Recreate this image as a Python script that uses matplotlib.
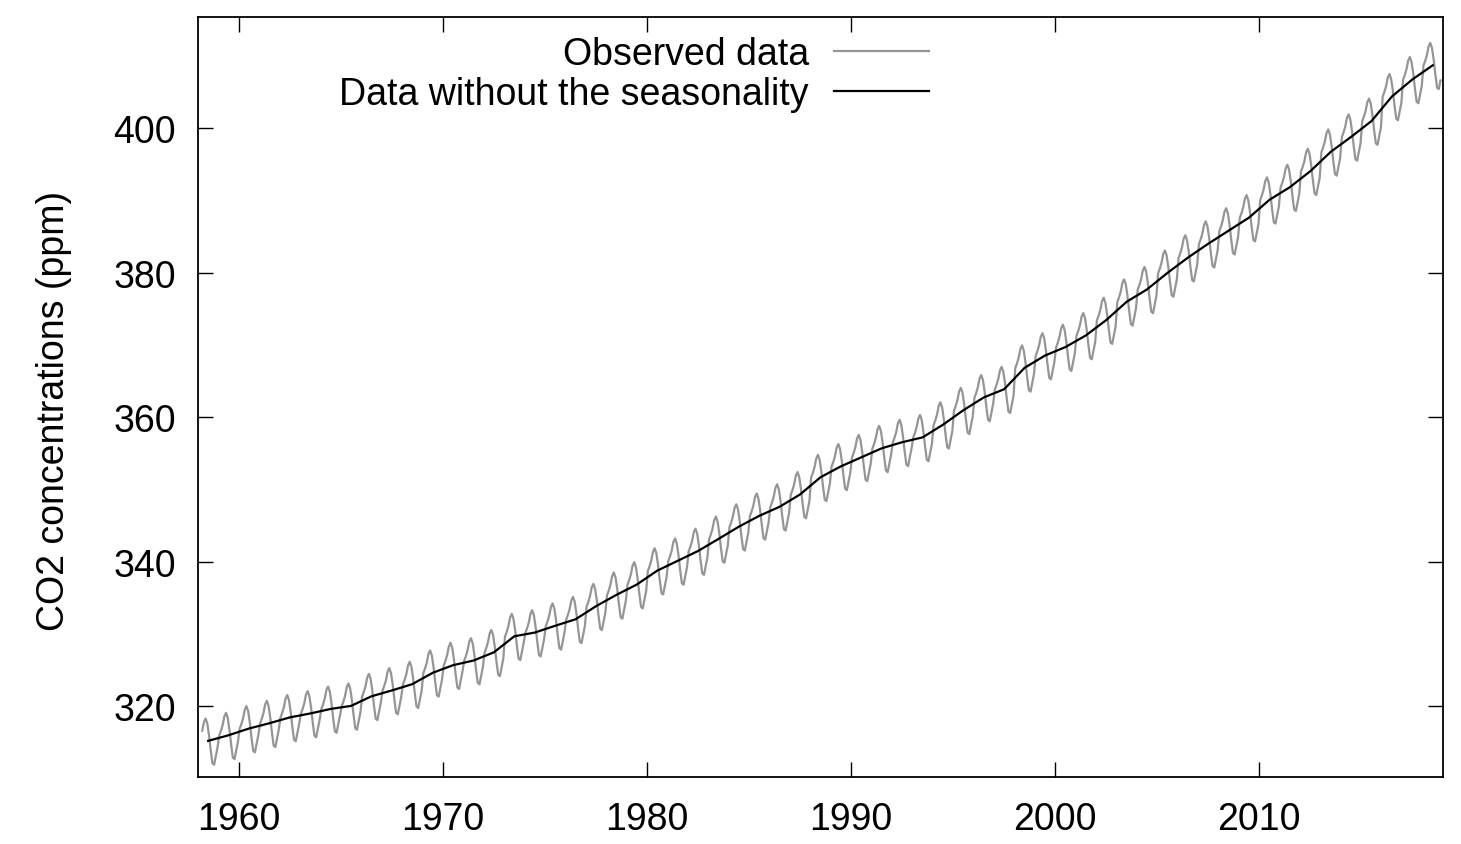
import numpy as np
import matplotlib
matplotlib.use("Agg")
from matplotlib import pyplot as plt

plt.rcParams['font.family'] = ['Liberation Sans', 'DejaVu Sans']

# deseasonalised CO2 level per year (ppm), 1958..2018
years = np.arange(1958, 2019)
trend = [315.2, 315.98, 316.91, 317.64, 318.45, 318.99, 319.62, 320.04, 321.37, 322.18,
         323.05, 324.62, 325.68, 326.32, 327.46, 329.68, 330.19, 331.13, 332.03, 333.84,
         335.41, 336.84, 338.76, 340.12, 341.48, 343.15, 344.85, 346.35, 347.61, 349.31,
         351.69, 353.20, 354.45, 355.70, 356.54, 357.21, 358.96, 360.97, 362.74, 363.88,
         366.84, 368.54, 369.71, 371.32, 373.45, 375.98, 377.70, 379.98, 382.09, 384.02,
         385.83, 387.64, 390.10, 391.85, 394.06, 396.74, 398.81, 401.01, 404.41, 406.76,
         408.72]
# seasonal offset per month, Jan..Dec (ppm)
season = [-0.04, 0.6, 1.4, 2.6, 3.1, 2.4, 0.8, -1.3, -3.1, -3.3, -2.1, -0.9]
first_month = 2   # record starts March 1958
last_month = 10   # ends November 2018

obs_x, obs_y = [], []
for i, yr in enumerate(years):
    m0 = first_month if yr == years[0] else 0
    m1 = last_month if yr == years[-1] else 11
    for m in range(m0, m1 + 1):
        obs_x.append(yr + (m + 0.5) / 12)
        obs_y.append(trend[i] + season[m])

fig = plt.figure(figsize=(14.61, 8.45), dpi=100)
ax = fig.add_axes([0.1355, 0.0793, 0.8522, 0.8994])

ax.plot(obs_x, obs_y, color='#959595', lw=1.6, label='Observed data')
ax.plot(years + 0.5, trend, color='black', lw=1.6, label='Data without the seasonality')

ax.set_xlim(1958, 2019)
ax.set_ylim(310.2, 415.4)
ax.set_xticks(range(1960, 2011, 10))
ax.set_yticks(range(320, 401, 20))
ax.tick_params(direction='in', length=11, width=1, top=True, right=True, labelsize=27)
ax.tick_params(axis='x', pad=17)
ax.tick_params(axis='y', pad=16)
for s in ax.spines.values():
    s.set_linewidth(1.3)

ax.set_ylabel('CO2 concentrations (ppm)', fontsize=27)
ax.yaxis.set_label_coords(-0.1012, 0.483)

ax.legend(loc='upper right', bbox_to_anchor=(0.587, 0.975), frameon=False,
          markerfirst=False, fontsize=27, handlelength=2.53, handletextpad=0.67,
          labelspacing=0.1, borderpad=0, borderaxespad=0)

fig.savefig('out.png', dpi=100)
